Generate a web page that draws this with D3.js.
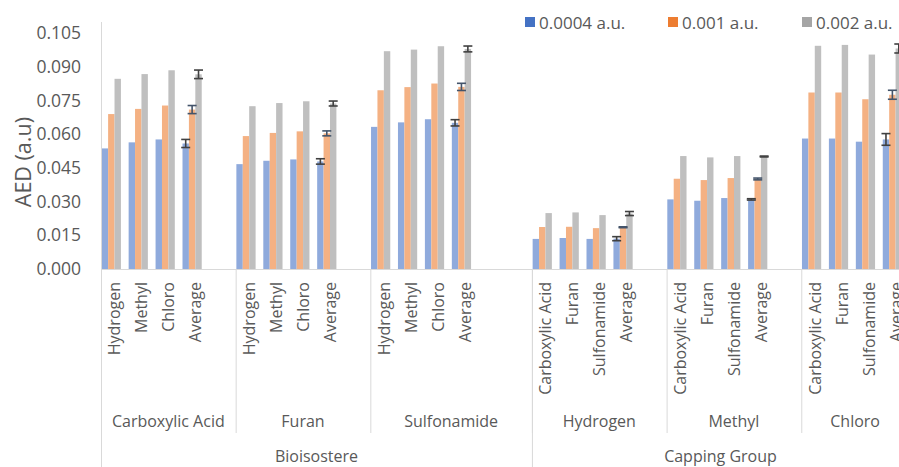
<!DOCTYPE html>
<html>
<head>
<meta charset="utf-8">
<script src="https://cdn.jsdelivr.net/npm/d3@7"></script>
<style>
  html, body { margin: 0; padding: 0; background: #fff; }
  svg { display: block; font-family: "Open Sans", sans-serif; }
  .lbl { fill: #595959; }
</style>
</head>
<body>
<div id="container"></div>
<script>
const seriesNames = ["0.0004 a.u.", "0.001 a.u.", "0.002 a.u."];
const topGroups = ["Bioisostere", "Capping Group"];
const subGroups = ["Carboxylic Acid", "Furan", "Sulfonamide", "Hydrogen", "Methyl", "Chloro"];
const subGroupParent = [0, 0, 0, 1, 1, 1];
const bioCategories = ["Hydrogen", "Methyl", "Chloro", "Average"];
const capCategories = ["Carboxylic Acid", "Furan", "Sulfonamide", "Average"];
// empty category slots after each sub group (as in the sheet)
const blankSlots = [1, 1, 2, 1, 1, 0];

const low = [0.0537, 0.0564, 0.0577, 0.0559, 0.0467, 0.0482, 0.0488, 0.0479, 0.0633, 0.0653, 0.0667, 0.0651,
             0.0134, 0.0138, 0.0134, 0.0135, 0.0310, 0.0304, 0.0316, 0.0310, 0.0581, 0.0581, 0.0567, 0.0577];
const mid = [0.0690, 0.0713, 0.0728, 0.0710, 0.0592, 0.0606, 0.0613, 0.0604, 0.0796, 0.0810, 0.0826, 0.0811,
             0.0187, 0.0188, 0.0182, 0.0186, 0.0402, 0.0396, 0.0405, 0.0401, 0.0786, 0.0786, 0.0756, 0.0776];
const high = [0.0847, 0.0868, 0.0885, 0.0867, 0.0725, 0.0739, 0.0747, 0.0737, 0.0970, 0.0977, 0.0992, 0.0980,
              0.0249, 0.0252, 0.0240, 0.0247, 0.0503, 0.0497, 0.0503, 0.0501, 0.0994, 0.0998, 0.0955, 0.0982];
// error bars only on the Average columns, one per sub group
const lowErr = [0.0018, 0.0012, 0.0014, 0.0009, 0.0003, 0.0026];
const midErr = [0.0018, 0.0011, 0.0016, 0.0002, 0.0004, 0.0020];
const highErr = [0.0019, 0.0011, 0.0013, 0.0009, 0.0002, 0.0020];
const yTicks = [0, 0.015, 0.03, 0.045, 0.06, 0.075, 0.09, 0.105];

const fills = ["#8faadc", "#f4b183", "#bfbfbf"];
const keyFills = ["#4472c4", "#ed7d31", "#a5a5a5"];
const errColors = ["#404040", "#44546a", "#404040"];
const textColor = "#595959";
const lineColor = "#d9d9d9";

const width = 899, height = 467;
const plotLeft = 101, plotRight = 909, plotTop = 22, plotBottom = 269;

// build the slot list
const slots = [];
const rows = [];
subGroups.forEach((sg, gi) => {
  const cats = subGroupParent[gi] === 0 ? bioCategories : capCategories;
  cats.forEach((c, ci) => {
    const key = `s${slots.length}`;
    slots.push(key);
    const k = gi * 4 + ci;
    rows.push({ key, name: c, group: gi, values: [low[k], mid[k], high[k]],
      errs: c === "Average" ? [lowErr[gi], midErr[gi], highErr[gi]] : null });
  });
  for (let b = 0; b < blankSlots[gi]; b++) slots.push(`s${slots.length}`);
});

const x = d3.scaleBand().domain(slots).range([plotLeft, plotRight]).padding(0);
const bw = x.bandwidth();
const barW = bw * 0.238;
const barOff = 0.7;

const y = d3.scaleLinear().domain([0, 0.11]).range([plotBottom, plotTop]);

const svg = d3.select("#container").append("svg")
  .attr("width", width).attr("height", height);

// bars
const cat = svg.append("g").selectAll("g").data(rows).enter().append("g");
cat.selectAll("rect")
  .data(d => d.values.map((v, i) => ({ v, i, key: d.key })))
  .enter().append("rect")
  .attr("x", d => x(d.key) + barOff + d.i * barW)
  .attr("y", d => y(d.v))
  .attr("width", barW)
  .attr("height", d => y(0) - y(d.v))
  .attr("fill", d => fills[d.i]);

// error bars
const errs = [];
rows.filter(r => r.errs).forEach(r => r.values.forEach((v, i) =>
  errs.push({ key: r.key, v, e: r.errs[i], i })));
const eg = svg.append("g").selectAll("g").data(errs).enter().append("g")
  .attr("stroke", d => errColors[d.i]).attr("stroke-width", 1.6).attr("fill", "none");
const cx = d => x(d.key) + barOff + d.i * barW + barW / 2;
eg.append("line").attr("x1", cx).attr("x2", cx)
  .attr("y1", d => y(d.v - d.e)).attr("y2", d => y(d.v + d.e));
eg.append("line").attr("x1", d => cx(d) - 4.5).attr("x2", d => cx(d) + 4.5)
  .attr("y1", d => y(d.v + d.e)).attr("y2", d => y(d.v + d.e));
eg.append("line").attr("x1", d => cx(d) - 4.5).attr("x2", d => cx(d) + 4.5)
  .attr("y1", d => y(d.v - d.e)).attr("y2", d => y(d.v - d.e));

// y axis
const yAxis = svg.append("g")
  .attr("transform", `translate(${plotLeft},0)`)
  .call(d3.axisLeft(y).tickValues(yTicks).tickFormat(d3.format(".3f")).tickSize(0).tickPadding(20));
yAxis.select(".domain").attr("stroke", lineColor).attr("d", `M0.5,${plotTop}V${plotBottom}`);
yAxis.selectAll("text").attr("fill", textColor).style("font-size", "17.5px").style("font-family", "Open Sans");

svg.append("text").attr("class", "lbl")
  .attr("transform", `translate(31,${(y(0) + y(0.105)) / 2 + 11}) rotate(-90)`)
  .attr("text-anchor", "middle").style("font-size", "21.5px")
  .text("AED (a.u)");

// x axis line
svg.append("line").attr("x1", plotLeft).attr("x2", plotRight)
  .attr("y1", plotBottom + 0.5).attr("y2", plotBottom + 0.5)
  .attr("stroke", lineColor);

// category labels
svg.append("g").selectAll("text").data(rows).enter().append("text")
  .attr("class", "lbl")
  .attr("transform", d => `translate(${x(d.key) + bw / 2 + 6},282) rotate(-90)`)
  .attr("text-anchor", "end").style("font-size", "16px")
  .text(d => d.name);

// sub group spans
const spans = [];
let pos = 0;
subGroups.forEach((sg, gi) => {
  const n = 4 + blankSlots[gi];
  const x0 = x(slots[pos]);
  const x1 = pos + n < slots.length ? x(slots[pos + n]) : plotRight;
  spans.push({ name: sg, x0, x1, parent: subGroupParent[gi] });
  pos += n;
});
const sep = svg.append("g").attr("stroke", lineColor);
spans.forEach(s => {
  sep.append("line").attr("x1", s.x0 + 0.5).attr("x2", s.x0 + 0.5).attr("y1", plotBottom).attr("y2", 433);
});
sep.append("line").attr("x1", plotRight + 0.5).attr("x2", plotRight + 0.5).attr("y1", plotBottom).attr("y2", height);
svg.append("g").selectAll("text").data(spans).enter().append("text")
  .attr("class", "lbl")
  .attr("x", d => (d.x0 + d.x1) / 2).attr("y", 427)
  .attr("text-anchor", "middle").style("font-size", "16px")
  .text(d => d.name);

// top groups
const tops = topGroups.map((t, ti) => {
  const mine = spans.filter(s => s.parent === ti);
  return { name: t, x0: mine[0].x0, x1: mine[mine.length - 1].x1 };
});
tops.forEach(t => {
  sep.append("line").attr("x1", t.x0 + 0.5).attr("x2", t.x0 + 0.5).attr("y1", plotBottom).attr("y2", height);
});
svg.append("g").selectAll("text").data(tops).enter().append("text")
  .attr("class", "lbl")
  .attr("x", d => (d.x0 + d.x1) / 2).attr("y", 462)
  .attr("text-anchor", "middle").style("font-size", "16px")
  .text(d => d.name);

// legend
const legendX = [525, 668, 802];
const lg = svg.append("g").selectAll("g").data(seriesNames).enter().append("g")
  .attr("transform", (d, i) => `translate(${legendX[i]},17)`);
lg.append("rect").attr("width", 10).attr("height", 10).attr("fill", (d, i) => keyFills[i]);
lg.append("text").attr("class", "lbl").attr("x", 14).attr("y", 11.5)
  .style("font-size", "17px").text(d => d);
</script>
</body>
</html>
